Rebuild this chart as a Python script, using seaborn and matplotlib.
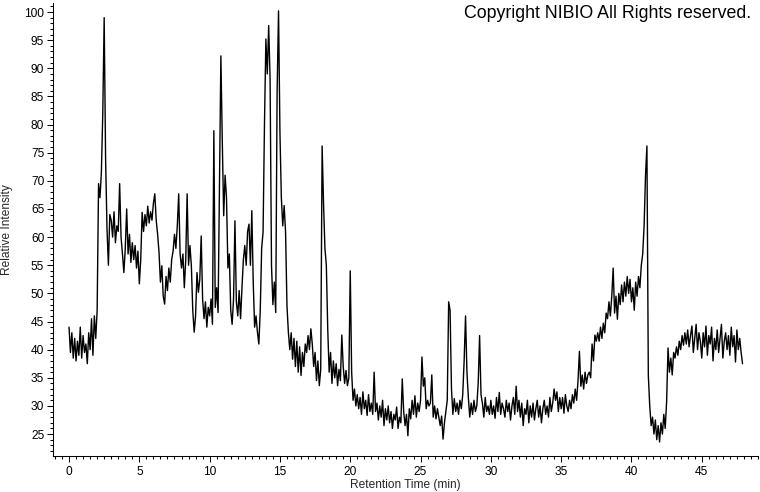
import numpy as np
import matplotlib
matplotlib.use("Agg")
import matplotlib.pyplot as plt
from matplotlib.ticker import MultipleLocator
import seaborn as sns

# Chromatogram trace, one value every 0.1 min, in 5-minute blocks
trace_00_05 = [44.0, 39.5, 43.0, 38.5, 42.0, 38.0, 41.5, 39.0, 44.0, 38.5,
               42.5, 39.5, 41.0, 37.5, 43.0, 40.0, 45.5, 39.0, 46.0, 42.0,
               47.0, 69.5, 67.0, 71.5, 82.0, 99.0, 74.0, 61.5, 55.0, 64.0,
               63.0, 60.0, 64.5, 59.0, 62.0, 61.0, 69.5, 60.0, 57.0, 53.7,
               58.0, 65.0, 57.0, 60.5, 55.5, 59.0, 56.0, 58.5, 54.5, 57.5]
trace_05_10 = [51.7, 56.0, 64.4, 61.0, 64.0, 62.0, 65.5, 62.5, 64.5, 63.0,
               66.0, 67.7, 63.0, 60.5, 57.3, 52.0, 54.9, 49.5, 48.1, 53.0,
               50.5, 54.5, 52.0, 56.0, 57.5, 60.5, 58.0, 62.0, 67.7, 57.0,
               54.5, 57.0, 51.0, 56.0, 67.7, 55.0, 58.5, 54.9, 47.0, 43.1,
               46.0, 53.7, 50.2, 52.5, 60.2, 49.0, 45.5, 48.5, 44.0, 47.5]
trace_10_15 = [46.0, 49.0, 44.5, 78.9, 47.5, 51.0, 46.6, 70.0, 92.2, 77.0,
               63.8, 71.0, 67.0, 54.5, 57.0, 47.0, 44.5, 49.0, 62.9, 48.5,
               46.0, 50.5, 45.5, 51.0, 56.0, 58.5, 55.0, 61.0, 62.3, 55.0,
               64.7, 52.0, 44.0, 46.0, 43.1, 41.0, 47.0, 58.0, 60.9, 80.0,
               95.2, 89.0, 97.6, 88.0, 54.9, 48.0, 52.0, 46.6, 86.0, 100.2]
trace_15_20 = [78.6, 67.0, 62.0, 65.6, 60.9, 47.8, 43.1, 40.0, 43.0, 38.3,
               42.0, 37.0, 41.5, 36.0, 40.5, 35.4, 39.5, 37.0, 41.0, 39.5,
               42.5, 40.0, 43.7, 41.0, 37.0, 39.5, 34.5, 38.0, 33.6, 36.5,
               76.2, 66.0, 58.0, 55.0, 43.6, 36.0, 39.5, 34.0, 38.0, 35.0,
               37.5, 33.6, 36.5, 34.5, 42.6, 37.0, 34.0, 36.3, 33.6, 35.0]
trace_20_25 = [54.0, 36.0, 31.0, 33.0, 30.0, 32.0, 29.5, 31.5, 28.5, 32.5,
               29.5, 31.0, 28.3, 32.0, 29.0, 30.5, 28.5, 36.0, 29.0, 30.5,
               27.5, 30.0, 28.0, 31.0, 26.5, 29.5, 27.5, 30.0, 27.0, 29.0,
               26.0, 28.5, 27.5, 29.8, 26.0, 28.0, 27.0, 34.8, 29.0, 26.5,
               28.5, 24.7, 29.5, 27.7, 31.0, 28.5, 31.8, 28.0, 30.5, 29.0]
trace_25_30 = [31.0, 38.7, 33.5, 35.0, 29.5, 31.0, 30.0, 30.5, 35.5, 28.0,
               30.0, 27.7, 29.5, 28.0, 26.5, 28.2, 24.1, 27.0, 29.0, 31.0,
               48.5, 47.0, 33.0, 28.5, 31.3, 29.0, 30.5, 28.5, 31.0, 29.5,
               32.0, 38.0, 46.0, 36.0, 31.5, 28.0, 30.5, 28.5, 31.0, 29.0,
               30.0, 34.0, 42.5, 32.0, 30.5, 28.0, 31.5, 29.0, 30.0, 28.5]
trace_30_35 = [31.0, 28.5, 30.0, 27.8, 31.5, 29.0, 32.4, 28.5, 30.5, 29.5,
               28.0, 31.0, 29.0, 30.5, 27.5, 30.0, 31.5, 28.5, 33.5, 29.0,
               31.0, 28.0, 30.5, 26.5, 29.5, 28.5, 31.0, 27.0, 30.0, 28.0,
               30.5, 27.5, 29.5, 31.0, 28.0, 30.0, 27.0, 29.5, 31.0, 28.5,
               30.0, 28.0, 31.5, 29.0, 30.5, 33.0, 31.0, 32.5, 29.0, 31.5]
trace_35_40 = [29.5, 31.5, 28.7, 32.0, 30.0, 29.0, 31.0, 29.5, 32.0, 30.5,
               33.0, 31.0, 34.5, 39.7, 33.5, 35.5, 33.0, 36.0, 34.0, 35.5,
               36.0, 35.0, 41.0, 38.0, 42.6, 41.5, 43.0, 41.5, 44.0, 42.0,
               44.7, 43.0, 46.5, 45.5, 48.5, 46.0, 49.5, 54.5, 46.5, 49.5,
               45.4, 50.0, 48.0, 51.5, 48.5, 52.0, 49.5, 53.0, 50.0, 52.5]
trace_40_45 = [48.5, 51.0, 47.0, 52.0, 49.5, 53.0, 51.0, 55.0, 57.0, 62.0,
               71.0, 76.2, 35.4, 30.0, 26.5, 28.0, 25.0, 27.5, 24.0, 26.5,
               23.6, 27.0, 25.0, 28.5, 26.0, 30.7, 40.3, 36.0, 38.5, 35.5,
               39.5, 38.5, 40.5, 39.0, 41.5, 40.0, 42.5, 40.8, 43.0, 41.0,
               43.5, 40.5, 42.5, 44.2, 39.5, 42.0, 44.5, 40.0, 43.0, 41.5]
trace_45_48 = [38.5, 43.0, 40.5, 44.2, 39.0, 42.5, 41.0, 44.0, 38.0, 42.0,
               40.0, 43.5, 39.5, 42.0, 44.5, 38.5, 41.5, 43.0, 40.0, 42.5,
               39.0, 44.0, 40.5, 42.5, 37.8, 43.5, 40.0, 42.0, 39.5, 37.5]

y_ticks = [25, 30, 35, 40, 45, 50, 55, 60, 65, 70, 75, 80, 85, 90, 95, 100]
x_ticks = [0, 5, 10, 15, 20, 25, 30, 35, 40, 45]

intensity = np.array(trace_00_05 + trace_05_10 + trace_10_15 + trace_15_20 +
                     trace_20_25 + trace_25_30 + trace_30_35 + trace_35_40 +
                     trace_40_45 + trace_45_48)
# sampling grid of the detector: one reading every 0.1 min
minutes = np.round(np.arange(len(intensity)) * 0.1, 1)

sns.set_style("ticks")
plt.rcParams["font.family"] = ["Liberation Sans", "DejaVu Sans"]

fig = plt.figure(figsize=(7.6, 4.92), dpi=100)
ax = fig.add_axes([53 / 760, 36 / 492, 705 / 760, 453 / 492])

sns.lineplot(x=minutes, y=intensity, color="black", linewidth=1.0, ax=ax)

ax.set_xlim(-1.14, 49.0)
ax.set_ylim(21.1, 101.6)
ax.set_xticks(x_ticks)
ax.set_yticks(y_ticks)
ax.xaxis.set_minor_locator(MultipleLocator(0.5))
ax.yaxis.set_minor_locator(MultipleLocator(1))
ax.tick_params(axis="both", which="major", direction="out", length=4.3, width=0.75,
               colors="black", labelsize=8.6, pad=2)
ax.tick_params(axis="both", which="minor", direction="out", length=2.5, width=0.75,
               colors="black")
ax.tick_params(axis="x", which="major", pad=3)

for side in ["top", "right"]:
    ax.spines[side].set_visible(False)
for side in ["left", "bottom"]:
    ax.spines[side].set_linewidth(0.75)
    ax.spines[side].set_color("black")

ax.set_xlabel("Retention Time (min)", fontsize=8.6)
ax.set_ylabel("Relative Intensity", fontsize=8.6)
ax.xaxis.set_label_coords(0.5, -0.05)
ax.yaxis.set_label_coords(-0.057, 0.5)

fig.text(751 / 760, 1 - 18.3 / 492, "Copyright NIBIO All Rights reserved.",
         ha="right", va="baseline", fontsize=12.8, color="black")

fig.savefig("out.png", dpi=100, facecolor="white")
